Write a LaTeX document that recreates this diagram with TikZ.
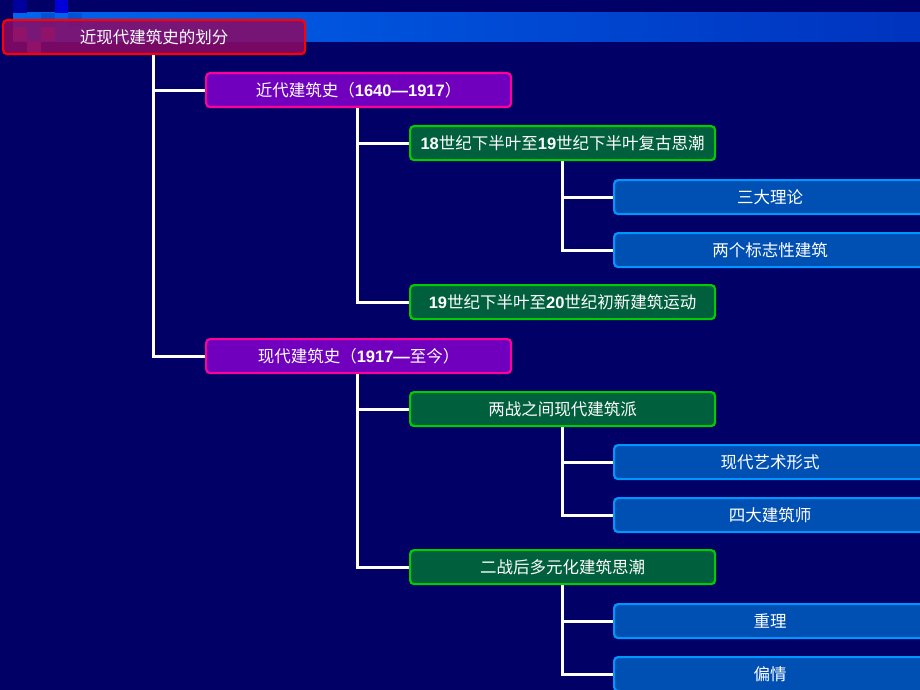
\documentclass[tikz,border=0pt]{standalone}
\usepackage{fontspec}
\newfontfamily\cjk{Noto Sans CJK SC}
\newfontfamily\lat{Liberation Sans}
\usetikzlibrary{positioning}
\definecolor{bg}{RGB}{0,0,102}
\definecolor{barL}{RGB}{0,102,238}
\definecolor{barR}{RGB}{0,51,190}
\definecolor{rootfill}{RGB}{140,10,100}
\definecolor{rootdraw}{RGB}{255,0,0}
\definecolor{lafill}{RGB}{112,0,190}
\definecolor{ladraw}{RGB}{255,0,153}
\definecolor{lbfill}{RGB}{0,95,60}
\definecolor{lbdraw}{RGB}{0,204,0}
\definecolor{lcfill}{RGB}{0,80,180}
\definecolor{lcdraw}{RGB}{0,150,255}
\newcommand{\nm}[1]{{\lat\bfseries #1}}
\tikzset{
  x=1pt, y=-1pt,
  box/.style={rounded corners=4pt, line width=2.2pt, minimum height=34pt, minimum width=305pt,
     anchor=north west, inner sep=0pt, text=white, font=\cjk\fontsize{16.5}{19}\selectfont},
  rootbox/.style={box, draw=rootdraw, fill=rootfill, fill opacity=0.85, text opacity=1, minimum width=302pt},
  labox/.style={box, draw=ladraw, fill=lafill},
  lbbox/.style={box, draw=lbdraw, fill=lbfill},
  lcbox/.style={box, draw=lcdraw, fill=lcfill, minimum width=312pt},
  link/.style={draw=white, line width=3pt}
}
\begin{document}
\begin{tikzpicture}
\fill[bg] (0,0) rectangle (920,690);
\useasboundingbox (0,0) rectangle (920,690);
% top bar
\shade[left color=barL, right color=barR] (13,13) rectangle (920,42);
% decorative squares
\fill[blue!85!black] (55,0) rectangle (68,13);
\fill[blue!35!bg] (13,0) rectangle (27,13);
\fill[barL] (13,13) rectangle (27,27);
\fill[barL!80!bg] (41,13) rectangle (55,27);
\fill[barL!80!bg] (68,13) rectangle (82,27);
\fill[white!25!rootfill] (13,27) rectangle (27,41);
\fill[white!25!rootfill] (41,27) rectangle (55,41);
\fill[white!20!rootfill] (27,41) rectangle (41,53);
% nodes
\node[rootbox] (root) at (2,19) {近现代建筑史的划分};
\node[labox] (a1) at (205,72) {近代建筑史（\nm{1640—1917}）};
\node[labox] (a2) at (205,338) {现代建筑史（\nm{1917—}至今）};
\node[lbbox] (b1) at (409,125) {\nm{18}世纪下半叶至\nm{19}世纪下半叶复古思潮};
\node[lbbox] (b2) at (409,284) {\nm{19}世纪下半叶至\nm{20}世纪初新建筑运动};
\node[lbbox] (b3) at (409,391) {两战之间现代建筑派};
\node[lbbox] (b4) at (409,549) {二战后多元化建筑思潮};
\node[lcbox] (c1) at (613,179) {三大理论};
\node[lcbox] (c2) at (613,232) {两个标志性建筑};
\node[lcbox] (c3) at (613,444) {现代艺术形式};
\node[lcbox] (c4) at (613,497) {四大建筑师};
\node[lcbox] (c5) at (613,603) {重理};
\node[lcbox] (c6) at (613,656) {偏情};
% connectors
\coordinate (r0) at (153,0);
\draw[link] (root.south -| r0) |- (a1.west);
\draw[link] (root.south -| r0) |- (a2.west);
\coordinate (s0) at (357,0);
\draw[link] (a1.south -| s0) |- (b1.west);
\draw[link] (a1.south -| s0) |- (b2.west);
\draw[link] (a2.south -| s0) |- (b3.west);
\draw[link] (a2.south -| s0) |- (b4.west);
\coordinate (t0) at (562,0);
\draw[link] (b1.south -| t0) |- (c1.west);
\draw[link] (b1.south -| t0) |- (c2.west);
\draw[link] (b3.south -| t0) |- (c3.west);
\draw[link] (b3.south -| t0) |- (c4.west);
\draw[link] (b4.south -| t0) |- (c5.west);
\draw[link] (b4.south -| t0) |- (c6.west);
\end{tikzpicture}
\end{document}
